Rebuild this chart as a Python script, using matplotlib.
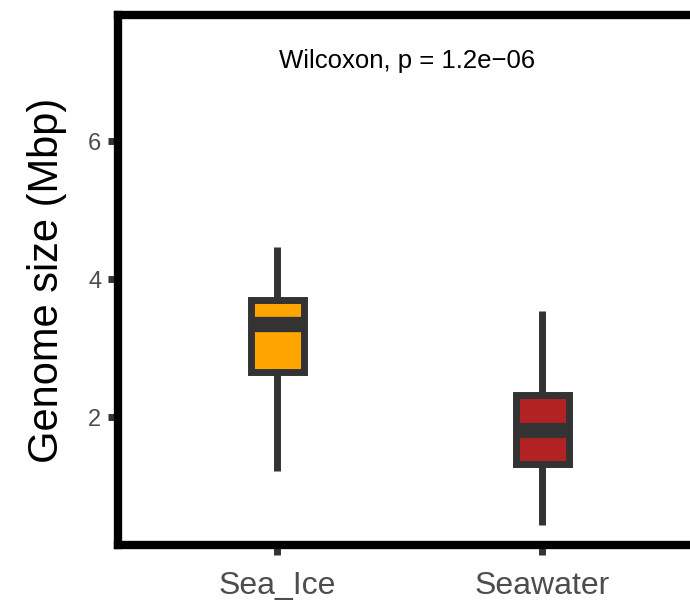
import matplotlib
matplotlib.use('Agg')
import matplotlib.pyplot as plt

# summary values (Mbp)
groups = ['Sea_Ice', 'Seawater']
whislo = [1.22, 0.43]
q1 = [2.65, 1.32]
med = [3.35, 1.81]
q3 = [3.70, 2.32]
whishi = [4.46, 3.54]
fills = ['#FFA500', '#B22222']
p_label = 'Wilcoxon, p = 1.2e\u221206'

dark = '#333333'
font = ['Liberation Sans', 'DejaVu Sans']

fig = plt.figure(figsize=(6.9, 6.03), dpi=100)
ax = fig.add_axes([118 / 690, 1 - 545 / 603, 583 / 690, 530 / 603])

stats = []
for i, g in enumerate(groups):
    stats.append(dict(label=g, whislo=whislo[i], q1=q1[i], med=med[i],
                      q3=q3[i], whishi=whishi[i], fliers=[]))

bp = ax.bxp(stats, positions=[1, 2], widths=0.2, patch_artist=True,
            showcaps=False,
            boxprops=dict(edgecolor=dark, linewidth=5),
            whiskerprops=dict(color=dark, linewidth=5, solid_capstyle='butt'),
            medianprops=dict(color=dark, linewidth=11, solid_capstyle='butt'))
for patch, c in zip(bp['boxes'], fills):
    patch.set_facecolor(c)
    patch.set_joinstyle('miter')

ax.set_xlim(0.4, 2.6)
ax.set_ylim(0.145, 7.83)
ax.set_yticks([2, 4, 6])
ax.set_xticks([1, 2])
ax.set_xticklabels(groups, family=font, fontsize=23, color='#4D4D4D')
ax.set_yticklabels(['2', '4', '6'], family=font, fontsize=17, color='#4D4D4D')
ax.tick_params(axis='both', length=7, width=5, color=dark)
ax.tick_params(axis='x', pad=12)
ax.tick_params(axis='y', pad=5)

for s in ax.spines.values():
    s.set_linewidth(6)
    s.set_color('black')

ax.set_ylabel('Genome size (Mbp)', family=font, fontsize=30, color='black')
ax.yaxis.set_label_coords(-0.088, 0.5)

ax.text(1.49, 7.17, p_label, family=font, fontsize=18.5, color='black',
        ha='center', va='center')

fig.savefig('out.png', dpi=100)
